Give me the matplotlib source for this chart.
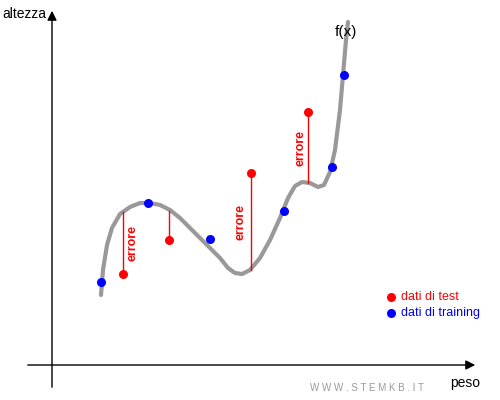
import matplotlib
matplotlib.use("Agg")
import matplotlib.pyplot as plt

curve_x = [101,103,107,112,120,130,140,150,160,170,180,190,200,210,220,228,235,242,250,260,270,280,288,295,302,310,318,324,330,335,340,343,346,348]
curve_y = [295,270,245,228,214,207,203,203,205,210,218,228,238,248,258,268,273,274,270,258,240,218,198,186,182,183,187,185,172,150,110,75,40,22]
train_x = [101,148,210,284,332,344]
train_y = [282,203,239,211,167,75]
test_x = [123,169,251,308]
test_y = [274,240,173,112]
test_curve_y = [212,211,270,183]
err_label_x = [133,None,241,300]

fig = plt.figure(figsize=(5,4), dpi=100)
ax = fig.add_axes([0,0,1,1])
ax.set_xlim(0,500); ax.set_ylim(400,0); ax.axis('off')

ax.annotate('', xy=(52,8), xytext=(52,390), arrowprops=dict(arrowstyle='-|>', color='black', lw=1, mutation_scale=14))
ax.annotate('', xy=(478,365), xytext=(25,365), arrowprops=dict(arrowstyle='-|>', color='black', lw=1, mutation_scale=14))
ax.text(2,14,'altezza', fontsize=10, va='center', family='Arial' if False else 'Liberation Sans')
ax.text(450,383,'peso', fontsize=10, va='center', family='Liberation Sans')
ax.text(335,32,'f(x)', fontsize=11, va='center', family='Liberation Sans')
ax.text(310,388,'W W W . S T E M K B . I T', fontsize=7, color='#999999', va='center', family='Liberation Sans')

ax.plot(curve_x, curve_y, color='#999999', lw=3, solid_capstyle='round', zorder=2)
for x, y, yc, lx in zip(test_x, test_y, test_curve_y, err_label_x):
    ax.plot([x,x],[y,yc], color='red', lw=1, zorder=3)
    if lx is not None:
        ax.text(lx,(y+yc)/2,'errore', rotation=90, color='red', fontweight='bold', fontsize=9, ha='center', va='center', family='Liberation Sans')
ax.scatter(test_x, test_y, s=30, color='red', zorder=4)
ax.scatter(train_x, train_y, s=30, color='blue', zorder=4)

ax.scatter([391],[297], s=30, color='red')
ax.scatter([391],[313], s=30, color='blue')
ax.text(401,297,'dati di test', color='red', fontsize=9, va='center', family='Liberation Sans')
ax.text(401,313,'dati di training', color='blue', fontsize=9, va='center', family='Liberation Sans')
fig.savefig('out.png', dpi=100)
